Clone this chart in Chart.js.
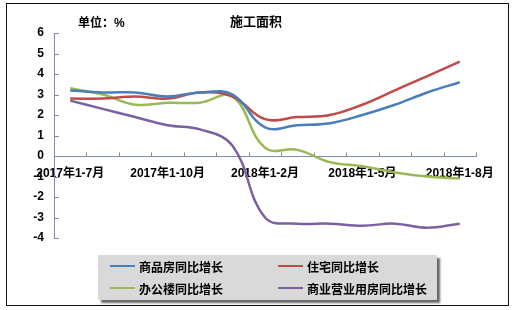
<!DOCTYPE html>
<html>
<head>
<meta charset="utf-8">
<script src="https://cdn.jsdelivr.net/npm/chart.js@4.4.1/dist/chart.umd.min.js"></script>
<style>
  body { margin: 0; background: #fff; }
  #frame { position: absolute; left: 6px; top: 3px; width: 501px; height: 301px; border: 1px solid #111; }
  #wrap { position: absolute; left: 0; top: 0; width: 515px; height: 310px; }
  #legend { position: absolute; left: 98px; top: 255px; width: 339px; height: 45px; background: #d9d9d9;
            box-shadow: 3px 3px 2px #666; font: bold 12px "Liberation Sans", "Noto Sans CJK SC"; color: #000; }
  .item { position: absolute; display: flex; align-items: center; height: 16px; white-space: nowrap; }
  .item i { display: inline-block; width: 25px; height: 2px; margin-right: 4px; }
</style>
</head>
<body>
<div id="frame"></div>
<div id="wrap"><canvas id="chart" width="515" height="310"></canvas></div>
<div id="legend"></div>
<script>
  const categories = ['2017年1-7月','2017年1-8月','2017年1-9月','2017年1-10月','2017年1-11月','2017年1-12月',
                      '2018年1-2月','2018年1-3月','2018年1-4月','2018年1-5月','2018年1-6月','2018年1-7月','2018年1-8月'];
  const seriesNames = ['商品房同比增长', '住宅同比增长', '办公楼同比增长', '商业营业用房同比增长'];
  const commodity  = [3.2, 3.1, 3.1, 2.9, 3.1, 3.0, 1.4, 1.5, 1.6, 2.0, 2.5, 3.1, 3.6];
  const residence  = [2.8, 2.8, 2.9, 2.8, 3.1, 2.9, 1.8, 1.9, 2.0, 2.5, 3.2, 3.9, 4.6];
  const office     = [3.3, 3.0, 2.5, 2.6, 2.6, 2.9, 0.4, 0.3, -0.3, -0.5, -0.8, -1.0, -1.1];
  const commercial = [2.7, 2.3, 1.9, 1.5, 1.3, 0.5, -3.0, -3.3, -3.3, -3.4, -3.3, -3.5, -3.3];
  const yMin = -4, yMax = 6, yStep = 1;
  const labelEvery = 3;

  const colors = ['#4a7ebb', '#be4b48', '#98b954', '#7d60a0'];
  const font = '"Liberation Sans", "Noto Sans CJK SC", sans-serif';
  const axisColor = '#7d8db0';

  const series = [commodity, residence, office, commercial];

  // inside tick marks + the two header texts
  const decor = {
    id: 'decor',
    beforeDatasetsDraw(chart) {
      const { ctx, scales: { x, y } } = chart;
      ctx.save();
      ctx.strokeStyle = axisColor;
      ctx.lineWidth = 1;
      ctx.beginPath();
      y.ticks.forEach(t => {
        const py = Math.round(y.getPixelForValue(t.value)) + 0.5;
        ctx.moveTo(x.left, py); ctx.lineTo(x.left + 5, py);
      });
      const y0 = Math.round(y.getPixelForValue(0)) + 0.5;
      const step = x.getPixelForValue(1) - x.getPixelForValue(0);
      for (let i = 0; i <= categories.length; i++) {
        const px = Math.round(x.getPixelForValue(0) - step / 2 + i * step) + 0.5;
        ctx.moveTo(px, y0); ctx.lineTo(px, y0 - 4);
      }
      ctx.stroke();

      ctx.fillStyle = '#000';
      ctx.textBaseline = 'middle';
      ctx.font = 'bold 13px ' + font;
      ctx.textAlign = 'center';
      ctx.fillText('施工面积', 256, 22);
      ctx.font = 'bold 12px ' + font;
      ctx.textAlign = 'left';
      ctx.fillText('单位：%', 78, 24);
      ctx.restore();
    }
  };

  const chart = new Chart(document.getElementById('chart'), {
    type: 'line',
    data: {
      labels: categories,
      datasets: series.map((d, i) => ({
        label: seriesNames[i],
        data: d,
        borderColor: colors[i],
        backgroundColor: colors[i],
        borderWidth: 2.5,
        pointRadius: 0,
        tension: 0.4,
        fill: false,
      }))
    },
    options: {
      responsive: false,
      animation: false,
      layout: { padding: { left: 0, right: 39, top: 33, bottom: 72 } },
      plugins: { legend: { display: false }, tooltip: { enabled: false } },
      scales: {
        x: {
          position: { y: 0 },
          offset: true,
          grid: { offset: true, drawOnChartArea: false, drawTicks: false },
          border: { color: axisColor, width: 1 },
          ticks: {
            autoSkip: false, maxRotation: 0, padding: 10, color: '#000',
            font: { family: font, size: 12, weight: 'bold' },
            callback: (v, i) => i % labelEvery === 0 ? categories[i] : ''
          }
        },
        y: {
          min: yMin, max: yMax,
          afterFit: s => { s.width = 54; },
          grid: { drawOnChartArea: false, drawTicks: false },
          border: { color: axisColor, width: 1 },
          ticks: {
            stepSize: yStep, padding: 10, color: '#000',
            font: { family: font, size: 12, weight: 'bold' }
          }
        }
      }
    },
    plugins: [decor]
  });

  // html legend built from the datasets
  const legend = document.getElementById('legend');
  const spots = [[12, 3], [180, 3], [12, 25], [180, 25]];
  chart.data.datasets.forEach((ds, i) => {
    const el = document.createElement('div');
    el.className = 'item';
    el.style.left = spots[i][0] + 'px';
    el.style.top = spots[i][1] + 'px';
    el.innerHTML = '<i style="background:' + ds.borderColor + '"></i>' + ds.label;
    legend.appendChild(el);
  });
</script>
</body>
</html>
